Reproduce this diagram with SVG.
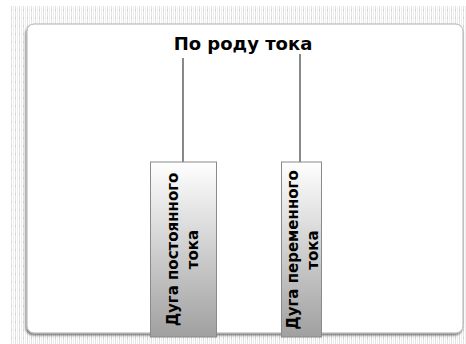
<svg xmlns="http://www.w3.org/2000/svg" width="466" height="344" viewBox="0 0 466 344">
<style>
.title{font-family:"DejaVu Sans",Verdana,sans-serif;font-weight:bold;font-size:18px;fill:#000;text-anchor:middle}
.lbl{font-family:"DejaVu Sans",Verdana,sans-serif;font-weight:bold;font-size:15px;fill:#000;text-anchor:middle}
.box{fill:url(#g);stroke:#8a8a8a;stroke-width:1}
.conn{stroke:#3a3a3a;stroke-width:1.2;fill:none}
</style>
<defs>
<pattern id="grid" x="11" y="6" width="4" height="8" patternUnits="userSpaceOnUse">
<rect x="0" y="0" width="1" height="8" fill="#e3e3e3"/>
<rect x="2" y="0" width="1" height="8" fill="#eeeeee"/>
<rect x="0" y="3" width="1" height="2" fill="#d2d2d2"/>
</pattern>
<linearGradient id="g" x1="0" y1="0" x2="0" y2="1">
<stop offset="0" stop-color="#ffffff"/>
<stop offset="1" stop-color="#a0a0a0"/>
</linearGradient>
<filter id="sh" x="-5%" y="-5%" width="110%" height="110%">
<feGaussianBlur in="SourceAlpha" stdDeviation="1.3"/>
<feOffset dx="-1" dy="2"/>
<feComponentTransfer><feFuncA type="linear" slope="0.5"/></feComponentTransfer>
<feMerge><feMergeNode/><feMergeNode in="SourceGraphic"/></feMerge>
</filter>
</defs>
<rect x="0" y="0" width="466" height="344" fill="#fff"/>
<rect x="11" y="6" width="455" height="338" fill="url(#grid)"/>
<rect id="panel" x="27" y="24" width="436" height="309" rx="7" fill="#fff" stroke="#b0b0b0" stroke-width="1" filter="url(#sh)"/>
<g id="connectors">
<line class="conn" x1="183" y1="58" x2="183" y2="162"/>
<line class="conn" x1="300" y1="54" x2="300" y2="162"/>
</g>
<g id="root">
<text class="title" x="243" y="50">По роду тока</text>
</g>
<g id="node-dc">
<rect class="box" x="150.5" y="162" width="66" height="175"/>
<text class="lbl" transform="rotate(-90)" x="-249.5" y="178">Дуга постоянного</text>
<text class="lbl" transform="rotate(-90)" x="-249.5" y="198">тока</text>
</g>
<g id="node-ac">
<rect class="box" x="281.5" y="162" width="40" height="175"/>
<text class="lbl" transform="rotate(-90)" x="-250" y="298">Дуга переменного</text>
<text class="lbl" transform="rotate(-90)" x="-250" y="318">тока</text>
</g>
</svg>
